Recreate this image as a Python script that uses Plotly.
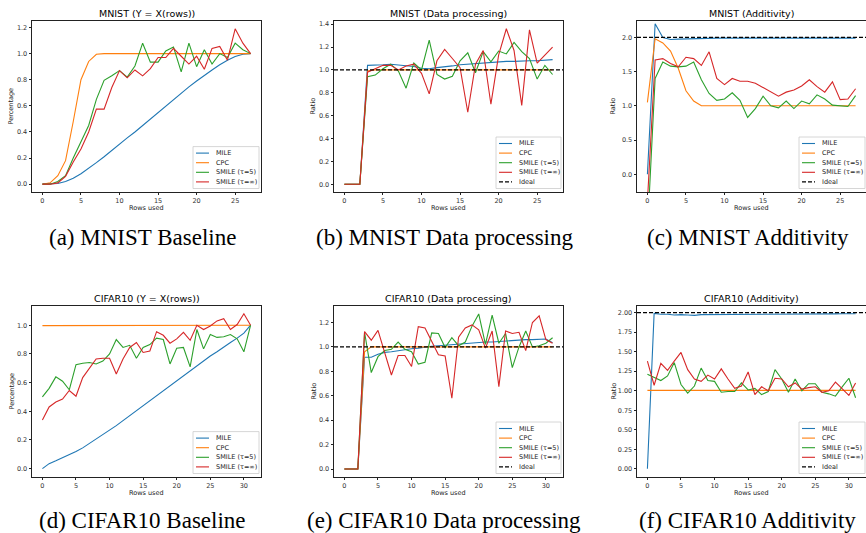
import plotly.graph_objects as go

W, H = 866, 533

# ---------------- data ----------------
x_mnist = list(range(28))
x_cifar = list(range(32))

# (a) MNIST baseline
a_mile = [0.0, 0.0, 0.005, 0.02, 0.045, 0.08, 0.12, 0.165, 0.21, 0.26, 0.31, 0.355, 0.40, 0.45,
          0.50, 0.55, 0.60, 0.645, 0.695, 0.745, 0.79, 0.835, 0.875, 0.915, 0.95, 0.978, 0.995, 1.0]
a_cpc = [0.0, 0.01, 0.065, 0.18, 0.48, 0.80, 0.94, 0.995, 1.0, 1.0, 1.0, 1.0, 1.0, 1.0,
         1.0, 1.0, 1.0, 1.0, 1.0, 1.0, 1.0, 1.0, 1.0, 1.0, 1.0, 1.0, 1.0, 1.0]
a_s5 = [0.0, 0.0, 0.02, 0.065, 0.2, 0.33, 0.45, 0.65, 0.795, 0.83, 0.87, 0.82, 0.905, 1.08,
        0.935, 0.935, 1.02, 1.05, 0.86, 1.08, 0.9, 1.03, 0.92, 1.0, 0.97, 1.08, 1.03, 1.0]
a_sinf = [0.0, 0.0, 0.01, 0.06, 0.17, 0.27, 0.40, 0.575, 0.575, 0.74, 0.87, 0.815, 0.875, 0.83,
          0.885, 0.97, 0.97, 1.04, 0.98, 0.92, 0.98, 0.88, 1.04, 1.055, 0.95, 1.19, 1.08, 1.0]

# (b) MNIST data processing
b_mile = [0.0, 0.0, 0.0, 1.04, 1.04, 1.045, 1.05, 1.045, 1.035, 1.03, 1.015, 1.01, 1.02, 1.025,
          1.035, 1.045, 1.05, 1.06, 1.065, 1.07, 1.07, 1.075, 1.075, 1.08, 1.08, 1.08, 1.085, 1.09]
b_cpc = [0.0, 0.0, 0.0, 0.99, 1.0, 1.0, 1.0, 1.0, 1.0, 1.0, 1.0, 1.0, 1.0, 1.0,
         1.0, 1.0, 1.0, 1.0, 1.0, 1.0, 1.0, 1.0, 1.0, 1.0, 1.0, 1.0, 1.0, 1.0]
b_s5 = [0.0, 0.0, 0.0, 0.94, 0.955, 1.01, 1.05, 0.99, 0.84, 1.06, 1.0, 1.26, 0.96, 0.92,
        0.945, 1.08, 1.15, 0.975, 1.16, 1.07, 1.165, 1.14, 1.24, 1.16, 1.1, 0.92, 1.04, 0.96]
b_sinf = [0.0, 0.0, 0.0, 0.98, 1.01, 1.04, 1.04, 1.0, 1.035, 1.05, 0.97, 0.79, 1.08, 1.18,
          1.1, 1.02, 0.63, 1.05, 1.17, 0.70, 1.13, 1.36, 1.17, 0.69, 1.35, 1.06, 1.13, 1.2]

# (c) MNIST additivity
c_mile = [0.0, 2.2, 2.0, 1.97, 1.975, 1.98, 1.985, 1.985, 1.99, 1.99, 1.99, 1.99, 1.99, 1.99,
          1.99, 1.99, 1.99, 1.99, 1.99, 1.99, 1.99, 1.99, 1.99, 1.99, 1.99, 1.99, 1.99, 1.99]
c_cpc = [1.05, 1.98, 1.92, 1.8, 1.55, 1.22, 1.07, 1.0, 1.0, 1.0, 1.0, 1.0, 1.0, 1.0,
         1.0, 1.0, 1.0, 1.0, 1.0, 1.0, 1.0, 1.0, 1.0, 1.0, 1.0, 1.0, 1.0, 1.0]
c_s5 = [-0.85, 1.4, 1.64, 1.58, 1.57, 1.58, 1.64, 1.38, 1.18, 1.08, 1.1, 1.19, 1.08, 0.83,
        0.96, 1.14, 1.0, 0.97, 1.07, 0.96, 1.07, 1.03, 1.16, 1.1, 1.01, 1.0, 0.99, 1.15]
c_sinf = [-0.4, 1.67, 1.69, 1.62, 1.57, 1.71, 1.69, 1.59, 1.79, 1.4, 1.31, 1.4, 1.36, 1.36,
          1.33, 1.27, 1.2, 1.14, 1.2, 1.23, 1.29, 1.38, 1.28, 1.2, 1.35, 1.09, 1.1, 1.25]

# (d) CIFAR10 baseline
d_mile = [0.0, 0.035, 0.055, 0.075, 0.1, 0.12, 0.145, 0.175, 0.205, 0.235, 0.27, 0.3, 0.335,
          0.37, 0.405, 0.44, 0.475, 0.51, 0.545, 0.58, 0.615, 0.65, 0.685, 0.72, 0.75, 0.785,
          0.815, 0.85, 0.88, 0.91, 0.945, 1.0]
d_cpc = [0.997] * 16 + [1.0] * 16
d_s5 = [0.5, 0.56, 0.64, 0.61, 0.55, 0.725, 0.735, 0.74, 0.73, 0.75, 0.8, 0.9, 0.845, 0.86,
        0.77, 0.845, 0.865, 0.91, 0.9, 0.73, 0.84, 0.845, 0.71, 0.97, 0.835, 0.935, 0.915,
        0.92, 0.935, 0.905, 0.815, 1.0]
d_sinf = [0.34, 0.43, 0.465, 0.485, 0.545, 0.505, 0.635, 0.7, 0.765, 0.77, 0.77, 0.66, 0.765,
          0.845, 0.88, 0.81, 0.82, 0.955, 0.93, 0.875, 0.905, 0.95, 0.895, 1.0, 0.97, 0.995,
          1.03, 1.045, 0.97, 1.005, 1.08, 1.0]

# (e) CIFAR10 data processing
e_mile = [0.0, 0.0, 0.0, 0.915, 0.915, 0.94, 0.955, 0.96, 0.97, 0.98, 0.985, 0.99, 1.0, 1.005,
          1.01, 1.015, 1.02, 1.025, 1.03, 1.035, 1.035, 1.04, 1.04, 1.045, 1.05, 1.05, 1.055,
          1.06, 1.06, 1.06, 1.065, 1.035]
e_cpc = [0.0, 0.0, 0.0, 0.96] + [1.0] * 28
e_s5 = [0.0, 0.0, 0.0, 1.12, 0.79, 0.92, 0.97, 0.98, 1.04, 0.98, 0.96, 0.86, 0.875, 1.115,
        1.11, 0.995, 1.075, 1.01, 1.04, 1.17, 1.27, 1.02, 1.26, 1.03, 1.11, 0.83, 1.0, 1.13,
        1.0, 1.01, 1.03, 1.075]
e_sinf = [0.0, 0.0, 0.0, 1.125, 1.055, 1.135, 0.96, 0.77, 0.93, 0.93, 0.84, 1.165, 1.155, 1.05,
          0.935, 0.925, 0.58, 1.08, 1.155, 1.18, 1.14, 0.99, 1.13, 0.675, 1.13, 1.11, 1.12,
          0.97, 1.2, 1.255, 1.06, 1.03]

# (f) CIFAR10 additivity
f_mile = [0.0, 1.99, 1.98, 1.98, 1.97, 1.975, 1.97, 1.965, 1.975, 1.975, 1.975, 1.975, 1.975,
          1.975, 1.975, 1.978, 1.98, 1.98, 1.98, 1.98, 1.98, 1.98, 1.98, 1.982, 1.982, 1.982,
          1.982, 1.984, 1.984, 1.985, 1.985, 1.985]
f_cpc = [1.005] * 32
f_s5 = [1.21, 1.17, 1.13, 1.19, 1.36, 1.08, 0.97, 1.06, 1.29, 1.13, 1.12, 0.98, 0.99, 0.99,
        1.1, 1.01, 1.03, 0.95, 0.99, 1.27, 1.15, 0.98, 1.15, 1.0, 1.09, 1.09, 0.98, 0.96,
        0.93, 1.05, 1.16, 0.91]
f_sinf = [1.38, 1.07, 1.35, 1.26, 1.38, 1.49, 1.27, 1.15, 1.12, 1.2, 1.15, 1.28, 1.15, 1.03,
          1.06, 1.24, 0.95, 1.05, 1.0, 1.16, 1.15, 1.05, 1.1, 1.02, 1.04, 1.05, 0.98, 1.0,
          1.11, 1.02, 0.94, 1.1]

series_names = ["MILE", "CPC", "SMILE (τ=5)", "SMILE (τ=∞)"]
colors = ["#1f77b4", "#ff7f0e", "#2ca02c", "#d62728"]

titles = ["MNIST (Y = X(rows))", "MNIST (Data processing)", "MNIST (Additivity)",
          "CIFAR10 (Y = X(rows))", "CIFAR10 (Data processing)", "CIFAR10 (Additivity)"]
captions = ["(a) MNIST Baseline", "(b) MNIST Data processing", "(c) MNIST Additivity",
            "(d) CIFAR10 Baseline", "(e) CIFAR10 Data processing", "(f) CIFAR10 Additivity"]
ylabels = ["Percentage", "Ratio", "Ratio", "Percentage", "Ratio", "Ratio"]
ideal_vals = [None, 1.0, 2.0, None, 1.0, 2.0]

panels = [
    (x_mnist, [a_mile, a_cpc, a_s5, a_sinf]),
    (x_mnist, [b_mile, b_cpc, b_s5, b_sinf]),
    (x_mnist, [c_mile, c_cpc, c_s5, c_sinf]),
    (x_cifar, [d_mile, d_cpc, d_s5, d_sinf]),
    (x_cifar, [e_mile, e_cpc, e_s5, e_sinf]),
    (x_cifar, [f_mile, f_cpc, f_s5, f_sinf]),
]

# ---------------- layout geometry (pixels) ----------------
col_x = [(32, 261), (334, 563), (637, 866)]
row_y = [(21, 192), (306, 477)]
ylab_x = [11, 313, 613]
xranges = [[-1.35, 28.35]] * 3 + [[-1.55, 32.55]] * 3
yranges = [[-0.06, 1.25], [-0.068, 1.428], [-0.26, 2.24],
           [-0.058, 1.134], [-0.065, 1.335], [-0.105, 2.085]]
ytickvals = [[0, 0.2, 0.4, 0.6, 0.8, 1.0, 1.2],
             [0, 0.2, 0.4, 0.6, 0.8, 1.0, 1.2, 1.4],
             [0, 0.5, 1.0, 1.5, 2.0],
             [0, 0.2, 0.4, 0.6, 0.8, 1.0],
             [0, 0.2, 0.4, 0.6, 0.8, 1.0, 1.2],
             [0, 0.25, 0.5, 0.75, 1.0, 1.25, 1.5, 1.75, 2.0]]
ytickfmt = [".1f"] * 5 + [".2f"]
xtickvals = [[0, 5, 10, 15, 20, 25]] * 3 + [[0, 5, 10, 15, 20, 25, 30]] * 3

def px(x):
    return x / W

def py(y):
    return 1 - y / H

FONT = "DejaVu Sans"
DASH = "4px,2px"
fig = go.Figure()
shapes = []
annotations = []

for i, (xs, ys_list) in enumerate(panels):
    r, c = divmod(i, 3)
    x0, x1 = col_x[c]
    y0, y1 = row_y[r]
    sfx = "" if i == 0 else str(i + 1)
    xa, ya = "x" + sfx, "y" + sfx
    for name, col, ys in zip(series_names, colors, ys_list):
        fig.add_trace(go.Scatter(x=xs, y=ys, mode="lines", name=name,
                                 line=dict(color=col, width=1.1),
                                 xaxis=xa, yaxis=ya, showlegend=False))
    axcommon = dict(showline=True, linecolor="#222", linewidth=0.9, mirror=True,
                    ticks="outside", ticklen=2.5, tickwidth=0.8, tickcolor="#222",
                    showgrid=False, zeroline=False,
                    tickfont=dict(family=FONT, size=6.5, color="#333"))
    fig.layout["xaxis" + sfx] = dict(domain=[px(x0), px(x1)], anchor=ya,
                                     range=xranges[i], tickvals=xtickvals[i], **axcommon)
    fig.layout["yaxis" + sfx] = dict(domain=[py(y1), py(y0)], anchor=xa,
                                     range=yranges[i], tickvals=ytickvals[i],
                                     tickformat=ytickfmt[i], **axcommon)
    if ideal_vals[i] is not None:
        shapes.append(dict(type="line", xref=xa + " domain", yref=ya, x0=0, x1=1,
                           y0=ideal_vals[i], y1=ideal_vals[i],
                           line=dict(color="black", width=1.1, dash=DASH)))
    cx = (x0 + x1) / 2
    # title
    annotations.append(dict(text=titles[i], x=px(cx), y=py(y0 - 8), xref="paper", yref="paper",
                            showarrow=False, xanchor="center", yanchor="middle",
                            font=dict(family=FONT, size=9.5, color="black")))
    # x label
    annotations.append(dict(text="Rows used", x=px(cx), y=py(y1 + 16), xref="paper", yref="paper",
                            showarrow=False, xanchor="center", yanchor="middle",
                            font=dict(family=FONT, size=6.5, color="#222")))
    # y label
    annotations.append(dict(text=ylabels[i], x=px(ylab_x[c]), y=py((y0 + y1) / 2),
                            xref="paper", yref="paper", showarrow=False, textangle=-90,
                            xanchor="center", yanchor="middle",
                            font=dict(family=FONT, size=6.5, color="#222")))
    # caption
    cap_y = 237 if r == 0 else 520
    annotations.append(dict(text=captions[i], x=px(cx - 4), y=py(cap_y), xref="paper",
                            yref="paper", showarrow=False, xanchor="center", yanchor="middle",
                            font=dict(family="Liberation Serif", size=23, color="black")))

    # legend (drawn manually, matplotlib style)
    entries = list(zip(series_names, colors, ["solid"] * 4))
    if ideal_vals[i] is not None:
        entries.append(("Ideal", "black", DASH))
    n = len(entries)
    step = 9.6
    bx1 = x1 - 2 if c < 2 else x1 - 1
    bw = 66 if c != 1 else 65
    bx0 = bx1 - bw
    by1 = y1 - 3.5
    by0 = by1 - (n * step + 3.5)
    shapes.append(dict(type="rect", xref="paper", yref="paper",
                       x0=px(bx0), x1=px(bx1), y0=py(by1), y1=py(by0),
                       fillcolor="rgba(255,255,255,0.85)",
                       line=dict(color="#cccccc", width=0.8), layer="above"))
    for k, (nm, col, dash) in enumerate(entries):
        ey = by0 + 6.5 + k * step
        shapes.append(dict(type="line", xref="paper", yref="paper",
                           x0=px(bx0 + 3), x1=px(bx0 + 16), y0=py(ey), y1=py(ey),
                           line=dict(color=col, width=1.1, dash=dash), layer="above"))
        annotations.append(dict(text=nm, x=px(bx0 + 21), y=py(ey), xref="paper", yref="paper",
                                showarrow=False, xanchor="left", yanchor="middle",
                                font=dict(family=FONT, size=6.5, color="#222")))

fig.update_layout(width=W, height=H, margin=dict(l=0, r=0, t=0, b=0),
                  paper_bgcolor="white", plot_bgcolor="white",
                  shapes=shapes, annotations=annotations, showlegend=False)

fig.write_html("out.html",
               config={"displayModeBar": False},
               post_script="document.body.style.margin='0';"
                           "document.body.style.overflow='hidden';")
